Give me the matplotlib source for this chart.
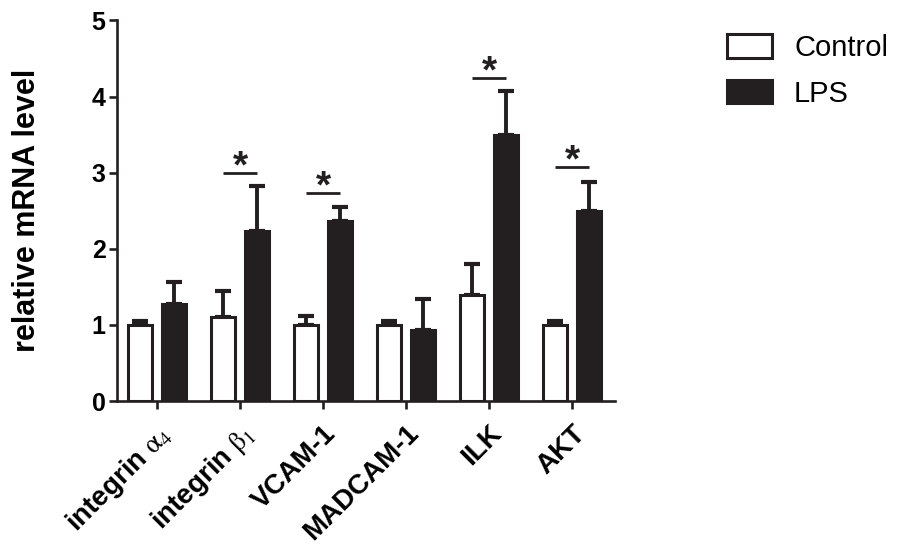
import numpy as np
import matplotlib
matplotlib.use("Agg")
import matplotlib.pyplot as plt

plt.rcParams['font.family'] = ['Liberation Sans', 'DejaVu Sans']
plt.rcParams['mathtext.fontset'] = 'stix'

genes = [r'integrin $\mathrm{\alpha}_4$', r'integrin $\mathrm{\beta}_1$',
         'VCAM-1', 'MADCAM-1', 'ILK', 'AKT']
control_mean = [1.00, 1.10, 1.00, 1.00, 1.40, 1.00]
control_err = [0.05, 0.35, 0.12, 0.05, 0.40, 0.05]
lps_mean = [1.27, 2.24, 2.36, 0.93, 3.50, 2.50]
lps_err = [0.29, 0.58, 0.19, 0.41, 0.57, 0.38]
# significance bars: gene index and line height
sig_idx = [1, 2, 4, 5]
sig_y = [3.00, 2.73, 4.24, 3.08]

fig = plt.figure(figsize=(8.98, 5.54), dpi=100)
ax = fig.add_axes([0.130, 0.276, 0.555, 0.687])

x = np.arange(len(genes))
off = 0.207
w = 0.29
lw = 2.2
dark = '#231f20'

ax.bar(x - off, control_mean, w, color='white', edgecolor=dark, linewidth=lw,
       label='Control', zorder=3)
ax.bar(x + off, lps_mean, w, color=dark, edgecolor=dark, linewidth=lw,
       label='LPS', zorder=3)

ax.errorbar(x - off, control_mean, yerr=[np.zeros(len(x)), control_err],
            fmt='none', ecolor=dark, elinewidth=2.8, capsize=5.5, capthick=3,
            zorder=2)
ax.errorbar(x + off, lps_mean, yerr=[np.zeros(len(x)), lps_err],
            fmt='none', ecolor=dark, elinewidth=2.8, capsize=5.5, capthick=3,
            zorder=2)

for i, yy in zip(sig_idx, sig_y):
    ax.plot([i - off, i + off], [yy, yy], color=dark, lw=2, solid_capstyle='butt')
    ax.text(i, yy - 0.06, '*', ha='center', va='baseline', fontsize=28,
            fontweight='bold', color=dark)

ax.set_xlim(-0.485, 5.52)
ax.set_ylim(0, 5)
ax.set_yticks([0, 1, 2, 3, 4, 5])
ax.set_xticks(x)
ax.set_xticklabels(genes, rotation=45, ha='right', rotation_mode='anchor',
                   fontsize=20, fontweight='bold')
for lab in ax.get_yticklabels():
    lab.set_fontsize(18)
    lab.set_fontweight('bold')

for s in ['top', 'right']:
    ax.spines[s].set_visible(False)
for s in ['left', 'bottom']:
    ax.spines[s].set_linewidth(1.9)
    ax.spines[s].set_color(dark)
ax.tick_params(axis='both', width=1.9, length=6, color=dark, pad=2)
ax.tick_params(axis='x', pad=8)

ax.set_ylabel('relative mRNA level', fontsize=22, fontweight='bold', labelpad=36)

fig.legend(loc='upper left', bbox_to_anchor=(727 / 898, 1 - 34 / 554),
           frameon=False, fontsize=21, handlelength=1.55, handleheight=0.86,
           handletextpad=0.75, labelspacing=0.6, borderpad=0, borderaxespad=0)

fig.savefig('out.png', dpi=100)
